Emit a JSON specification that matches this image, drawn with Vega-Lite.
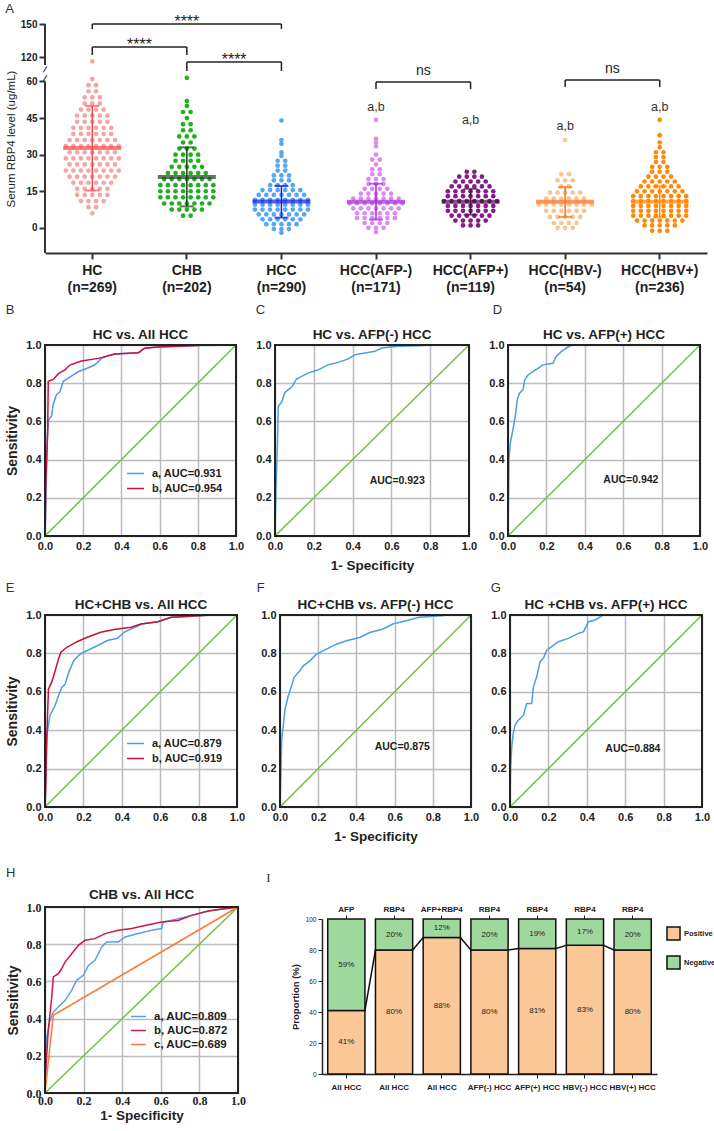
{
"$schema":"https://vega.github.io/schema/vega-lite/v6.json",
"background":"white",
"padding":{"left":5,"top":3,"right":2,"bottom":2},
"config":{"font":"Liberation Sans","view":{"stroke":null},
"title":{"fontSize":13,"fontWeight":"normal","anchor":"start","frame":"bounds","color":"#333","font":"Liberation Sans"},
"axis":{"labelColor":"#222","titleColor":"#222","domainColor":"#222","tickColor":"#222","labelFlush":false,"labelOverlap":false}},
"spacing":24,
"resolve":{"scale":{"color":"independent"},"legend":{"color":"independent"}},
"vconcat":[
{"spacing":10,"resolve":{"scale":{"color":"independent"},"legend":{"color":"independent"}},"vconcat":[
{"title":{"text":"A","offset":-2},
"width":662,"height":229,
"layer":[
{"data":{"values":[
{"g":"HC","v":116,"o":0},{"g":"HC","v":61,"o":0},
{"g":"HC","v":58.5,"o":-0.08},{"g":"HC","v":58.5,"o":0.08},
{"g":"HC","v":56,"o":-0.08},{"g":"HC","v":56,"o":0.08},
{"g":"HC","v":53.5,"o":-0.16},{"g":"HC","v":53.5,"o":0},{"g":"HC","v":53.5,"o":0.16},
{"g":"HC","v":51,"o":-0.16},{"g":"HC","v":51,"o":0},{"g":"HC","v":51,"o":0.16},
{"g":"HC","v":48.5,"o":-0.24},{"g":"HC","v":48.5,"o":-0.08},{"g":"HC","v":48.5,"o":0.08},{"g":"HC","v":48.5,"o":0.24},
{"g":"HC","v":46,"o":-0.32},{"g":"HC","v":46,"o":-0.16},{"g":"HC","v":46,"o":0},{"g":"HC","v":46,"o":0.16},{"g":"HC","v":46,"o":0.32},
{"g":"HC","v":43.5,"o":-0.32},{"g":"HC","v":43.5,"o":-0.16},{"g":"HC","v":43.5,"o":0},{"g":"HC","v":43.5,"o":0.16},{"g":"HC","v":43.5,"o":0.32},
{"g":"HC","v":41,"o":-0.4},{"g":"HC","v":41,"o":-0.24},{"g":"HC","v":41,"o":-0.08},{"g":"HC","v":41,"o":0.08},{"g":"HC","v":41,"o":0.24},{"g":"HC","v":41,"o":0.4},
{"g":"HC","v":38.5,"o":-0.4},{"g":"HC","v":38.5,"o":-0.24},{"g":"HC","v":38.5,"o":-0.08},{"g":"HC","v":38.5,"o":0.08},{"g":"HC","v":38.5,"o":0.24},{"g":"HC","v":38.5,"o":0.4},
{"g":"HC","v":36,"o":-0.48},{"g":"HC","v":36,"o":-0.32},{"g":"HC","v":36,"o":-0.16},{"g":"HC","v":36,"o":0},{"g":"HC","v":36,"o":0.16},{"g":"HC","v":36,"o":0.32},{"g":"HC","v":36,"o":0.48},
{"g":"HC","v":33.5,"o":-0.56},{"g":"HC","v":33.5,"o":-0.4},{"g":"HC","v":33.5,"o":-0.24},{"g":"HC","v":33.5,"o":-0.08},{"g":"HC","v":33.5,"o":0.08},{"g":"HC","v":33.5,"o":0.24},{"g":"HC","v":33.5,"o":0.4},{"g":"HC","v":33.5,"o":0.56},
{"g":"HC","v":31,"o":-0.48},{"g":"HC","v":31,"o":-0.32},{"g":"HC","v":31,"o":-0.16},{"g":"HC","v":31,"o":0},{"g":"HC","v":31,"o":0.16},{"g":"HC","v":31,"o":0.32},{"g":"HC","v":31,"o":0.48},
{"g":"HC","v":28.5,"o":-0.56},{"g":"HC","v":28.5,"o":-0.4},{"g":"HC","v":28.5,"o":-0.24},{"g":"HC","v":28.5,"o":-0.08},{"g":"HC","v":28.5,"o":0.08},{"g":"HC","v":28.5,"o":0.24},{"g":"HC","v":28.5,"o":0.4},{"g":"HC","v":28.5,"o":0.56},
{"g":"HC","v":26,"o":-0.48},{"g":"HC","v":26,"o":-0.32},{"g":"HC","v":26,"o":-0.16},{"g":"HC","v":26,"o":0},{"g":"HC","v":26,"o":0.16},{"g":"HC","v":26,"o":0.32},{"g":"HC","v":26,"o":0.48},
{"g":"HC","v":23.5,"o":-0.56},{"g":"HC","v":23.5,"o":-0.4},{"g":"HC","v":23.5,"o":-0.24},{"g":"HC","v":23.5,"o":-0.08},{"g":"HC","v":23.5,"o":0.08},{"g":"HC","v":23.5,"o":0.24},{"g":"HC","v":23.5,"o":0.4},{"g":"HC","v":23.5,"o":0.56},
{"g":"HC","v":21,"o":-0.48},{"g":"HC","v":21,"o":-0.32},{"g":"HC","v":21,"o":-0.16},{"g":"HC","v":21,"o":0},{"g":"HC","v":21,"o":0.16},{"g":"HC","v":21,"o":0.32},{"g":"HC","v":21,"o":0.48},
{"g":"HC","v":18.5,"o":-0.4},{"g":"HC","v":18.5,"o":-0.24},{"g":"HC","v":18.5,"o":-0.08},{"g":"HC","v":18.5,"o":0.08},{"g":"HC","v":18.5,"o":0.24},{"g":"HC","v":18.5,"o":0.4},
{"g":"HC","v":16,"o":-0.32},{"g":"HC","v":16,"o":-0.16},{"g":"HC","v":16,"o":0},{"g":"HC","v":16,"o":0.16},{"g":"HC","v":16,"o":0.32},
{"g":"HC","v":13.5,"o":-0.32},{"g":"HC","v":13.5,"o":-0.16},{"g":"HC","v":13.5,"o":0},{"g":"HC","v":13.5,"o":0.16},{"g":"HC","v":13.5,"o":0.32},
{"g":"HC","v":11,"o":-0.24},{"g":"HC","v":11,"o":-0.08},{"g":"HC","v":11,"o":0.08},{"g":"HC","v":11,"o":0.24},
{"g":"HC","v":8.5,"o":-0.08},{"g":"HC","v":8.5,"o":0.08},
{"g":"HC","v":6,"o":0},
{"g":"CHB","v":61.5,"o":0},{"g":"CHB","v":52,"o":0},{"g":"CHB","v":50,"o":0},
{"g":"CHB","v":47.5,"o":-0.08},{"g":"CHB","v":47.5,"o":0.08},
{"g":"CHB","v":45,"o":0},
{"g":"CHB","v":42.5,"o":-0.08},{"g":"CHB","v":42.5,"o":0.08},
{"g":"CHB","v":40,"o":-0.08},{"g":"CHB","v":40,"o":0.08},
{"g":"CHB","v":37.5,"o":-0.16},{"g":"CHB","v":37.5,"o":0},{"g":"CHB","v":37.5,"o":0.16},
{"g":"CHB","v":35,"o":-0.08},{"g":"CHB","v":35,"o":0.08},
{"g":"CHB","v":32.5,"o":-0.16},{"g":"CHB","v":32.5,"o":0},{"g":"CHB","v":32.5,"o":0.16},
{"g":"CHB","v":30,"o":-0.24},{"g":"CHB","v":30,"o":-0.08},{"g":"CHB","v":30,"o":0.08},{"g":"CHB","v":30,"o":0.24},
{"g":"CHB","v":27.5,"o":-0.24},{"g":"CHB","v":27.5,"o":-0.08},{"g":"CHB","v":27.5,"o":0.08},{"g":"CHB","v":27.5,"o":0.24},
{"g":"CHB","v":25,"o":-0.32},{"g":"CHB","v":25,"o":-0.16},{"g":"CHB","v":25,"o":0},{"g":"CHB","v":25,"o":0.16},{"g":"CHB","v":25,"o":0.32},
{"g":"CHB","v":22.5,"o":-0.4},{"g":"CHB","v":22.5,"o":-0.24},{"g":"CHB","v":22.5,"o":-0.08},{"g":"CHB","v":22.5,"o":0.08},{"g":"CHB","v":22.5,"o":0.24},{"g":"CHB","v":22.5,"o":0.4},
{"g":"CHB","v":20,"o":-0.48},{"g":"CHB","v":20,"o":-0.32},{"g":"CHB","v":20,"o":-0.16},{"g":"CHB","v":20,"o":0},{"g":"CHB","v":20,"o":0.16},{"g":"CHB","v":20,"o":0.32},{"g":"CHB","v":20,"o":0.48},
{"g":"CHB","v":17.5,"o":-0.56},{"g":"CHB","v":17.5,"o":-0.4},{"g":"CHB","v":17.5,"o":-0.24},{"g":"CHB","v":17.5,"o":-0.08},{"g":"CHB","v":17.5,"o":0.08},{"g":"CHB","v":17.5,"o":0.24},{"g":"CHB","v":17.5,"o":0.4},{"g":"CHB","v":17.5,"o":0.56},
{"g":"CHB","v":15,"o":-0.56},{"g":"CHB","v":15,"o":-0.4},{"g":"CHB","v":15,"o":-0.24},{"g":"CHB","v":15,"o":-0.08},{"g":"CHB","v":15,"o":0.08},{"g":"CHB","v":15,"o":0.24},{"g":"CHB","v":15,"o":0.4},{"g":"CHB","v":15,"o":0.56},
{"g":"CHB","v":12.5,"o":-0.56},{"g":"CHB","v":12.5,"o":-0.4},{"g":"CHB","v":12.5,"o":-0.24},{"g":"CHB","v":12.5,"o":-0.08},{"g":"CHB","v":12.5,"o":0.08},{"g":"CHB","v":12.5,"o":0.24},{"g":"CHB","v":12.5,"o":0.4},{"g":"CHB","v":12.5,"o":0.56},
{"g":"CHB","v":10,"o":-0.48},{"g":"CHB","v":10,"o":-0.32},{"g":"CHB","v":10,"o":-0.16},{"g":"CHB","v":10,"o":0},{"g":"CHB","v":10,"o":0.16},{"g":"CHB","v":10,"o":0.32},{"g":"CHB","v":10,"o":0.48},
{"g":"CHB","v":7.5,"o":-0.32},{"g":"CHB","v":7.5,"o":-0.16},{"g":"CHB","v":7.5,"o":0},{"g":"CHB","v":7.5,"o":0.16},{"g":"CHB","v":7.5,"o":0.32},
{"g":"CHB","v":5,"o":-0.08},{"g":"CHB","v":5,"o":0.08},
{"g":"HCC","v":44,"o":0},{"g":"HCC","v":36,"o":0},{"g":"HCC","v":34.5,"o":0},{"g":"HCC","v":31,"o":0},{"g":"HCC","v":29.5,"o":0},
{"g":"HCC","v":27.5,"o":-0.08},{"g":"HCC","v":27.5,"o":0.08},
{"g":"HCC","v":25.5,"o":-0.08},{"g":"HCC","v":25.5,"o":0.08},
{"g":"HCC","v":23.5,"o":-0.08},{"g":"HCC","v":23.5,"o":0.08},
{"g":"HCC","v":21.5,"o":-0.16},{"g":"HCC","v":21.5,"o":0},{"g":"HCC","v":21.5,"o":0.16},
{"g":"HCC","v":19.5,"o":-0.16},{"g":"HCC","v":19.5,"o":0},{"g":"HCC","v":19.5,"o":0.16},
{"g":"HCC","v":17.5,"o":-0.24},{"g":"HCC","v":17.5,"o":-0.08},{"g":"HCC","v":17.5,"o":0.08},{"g":"HCC","v":17.5,"o":0.24},
{"g":"HCC","v":15.5,"o":-0.4},{"g":"HCC","v":15.5,"o":-0.24},{"g":"HCC","v":15.5,"o":-0.08},{"g":"HCC","v":15.5,"o":0.08},{"g":"HCC","v":15.5,"o":0.24},{"g":"HCC","v":15.5,"o":0.4},
{"g":"HCC","v":13.5,"o":-0.48},{"g":"HCC","v":13.5,"o":-0.32},{"g":"HCC","v":13.5,"o":-0.16},{"g":"HCC","v":13.5,"o":0},{"g":"HCC","v":13.5,"o":0.16},{"g":"HCC","v":13.5,"o":0.32},{"g":"HCC","v":13.5,"o":0.48},
{"g":"HCC","v":11.5,"o":-0.56},{"g":"HCC","v":11.5,"o":-0.4},{"g":"HCC","v":11.5,"o":-0.24},{"g":"HCC","v":11.5,"o":-0.08},{"g":"HCC","v":11.5,"o":0.08},{"g":"HCC","v":11.5,"o":0.24},{"g":"HCC","v":11.5,"o":0.4},{"g":"HCC","v":11.5,"o":0.56},
{"g":"HCC","v":9.5,"o":-0.56},{"g":"HCC","v":9.5,"o":-0.4},{"g":"HCC","v":9.5,"o":-0.24},{"g":"HCC","v":9.5,"o":-0.08},{"g":"HCC","v":9.5,"o":0.08},{"g":"HCC","v":9.5,"o":0.24},{"g":"HCC","v":9.5,"o":0.4},{"g":"HCC","v":9.5,"o":0.56},
{"g":"HCC","v":7.5,"o":-0.56},{"g":"HCC","v":7.5,"o":-0.4},{"g":"HCC","v":7.5,"o":-0.24},{"g":"HCC","v":7.5,"o":-0.08},{"g":"HCC","v":7.5,"o":0.08},{"g":"HCC","v":7.5,"o":0.24},{"g":"HCC","v":7.5,"o":0.4},{"g":"HCC","v":7.5,"o":0.56},
{"g":"HCC","v":5.5,"o":-0.48},{"g":"HCC","v":5.5,"o":-0.32},{"g":"HCC","v":5.5,"o":-0.16},{"g":"HCC","v":5.5,"o":0},{"g":"HCC","v":5.5,"o":0.16},{"g":"HCC","v":5.5,"o":0.32},{"g":"HCC","v":5.5,"o":0.48},
{"g":"HCC","v":3.5,"o":-0.4},{"g":"HCC","v":3.5,"o":-0.24},{"g":"HCC","v":3.5,"o":-0.08},{"g":"HCC","v":3.5,"o":0.08},{"g":"HCC","v":3.5,"o":0.24},{"g":"HCC","v":3.5,"o":0.4},
{"g":"HCC","v":1.5,"o":-0.32},{"g":"HCC","v":1.5,"o":-0.16},{"g":"HCC","v":1.5,"o":0},{"g":"HCC","v":1.5,"o":0.16},{"g":"HCC","v":1.5,"o":0.32},
{"g":"HCC","v":-0.5,"o":-0.16},{"g":"HCC","v":-0.5,"o":0},{"g":"HCC","v":-0.5,"o":0.16},
{"g":"HCC","v":-2,"o":0},
{"g":"AFP-","v":44.3,"o":0},{"g":"AFP-","v":36.5,"o":0},{"g":"AFP-","v":35,"o":0},{"g":"AFP-","v":33.5,"o":0},{"g":"AFP-","v":30,"o":0},
{"g":"AFP-","v":28,"o":-0.08},{"g":"AFP-","v":28,"o":0.08},
{"g":"AFP-","v":26,"o":0},
{"g":"AFP-","v":24,"o":-0.08},{"g":"AFP-","v":24,"o":0.08},
{"g":"AFP-","v":22,"o":-0.08},{"g":"AFP-","v":22,"o":0.08},
{"g":"AFP-","v":20,"o":-0.16},{"g":"AFP-","v":20,"o":0},{"g":"AFP-","v":20,"o":0.16},
{"g":"AFP-","v":18,"o":-0.16},{"g":"AFP-","v":18,"o":0},{"g":"AFP-","v":18,"o":0.16},
{"g":"AFP-","v":16,"o":-0.24},{"g":"AFP-","v":16,"o":-0.08},{"g":"AFP-","v":16,"o":0.08},{"g":"AFP-","v":16,"o":0.24},
{"g":"AFP-","v":14,"o":-0.32},{"g":"AFP-","v":14,"o":-0.16},{"g":"AFP-","v":14,"o":0},{"g":"AFP-","v":14,"o":0.16},{"g":"AFP-","v":14,"o":0.32},
{"g":"AFP-","v":12,"o":-0.48},{"g":"AFP-","v":12,"o":-0.32},{"g":"AFP-","v":12,"o":-0.16},{"g":"AFP-","v":12,"o":0},{"g":"AFP-","v":12,"o":0.16},{"g":"AFP-","v":12,"o":0.32},{"g":"AFP-","v":12,"o":0.48},
{"g":"AFP-","v":10,"o":-0.56},{"g":"AFP-","v":10,"o":-0.4},{"g":"AFP-","v":10,"o":-0.24},{"g":"AFP-","v":10,"o":-0.08},{"g":"AFP-","v":10,"o":0.08},{"g":"AFP-","v":10,"o":0.24},{"g":"AFP-","v":10,"o":0.4},{"g":"AFP-","v":10,"o":0.56},
{"g":"AFP-","v":8,"o":-0.48},{"g":"AFP-","v":8,"o":-0.32},{"g":"AFP-","v":8,"o":-0.16},{"g":"AFP-","v":8,"o":0},{"g":"AFP-","v":8,"o":0.16},{"g":"AFP-","v":8,"o":0.32},{"g":"AFP-","v":8,"o":0.48},
{"g":"AFP-","v":6,"o":-0.4},{"g":"AFP-","v":6,"o":-0.24},{"g":"AFP-","v":6,"o":-0.08},{"g":"AFP-","v":6,"o":0.08},{"g":"AFP-","v":6,"o":0.24},{"g":"AFP-","v":6,"o":0.4},
{"g":"AFP-","v":4,"o":-0.4},{"g":"AFP-","v":4,"o":-0.24},{"g":"AFP-","v":4,"o":-0.08},{"g":"AFP-","v":4,"o":0.08},{"g":"AFP-","v":4,"o":0.24},{"g":"AFP-","v":4,"o":0.4},
{"g":"AFP-","v":2,"o":-0.24},{"g":"AFP-","v":2,"o":-0.08},{"g":"AFP-","v":2,"o":0.08},{"g":"AFP-","v":2,"o":0.24},
{"g":"AFP-","v":0,"o":-0.16},{"g":"AFP-","v":0,"o":0},{"g":"AFP-","v":0,"o":0.16},
{"g":"AFP-","v":-1.7,"o":0},
{"g":"AFP+","v":23,"o":-0.08},{"g":"AFP+","v":23,"o":0.08},
{"g":"AFP+","v":21,"o":-0.24},{"g":"AFP+","v":21,"o":-0.08},{"g":"AFP+","v":21,"o":0.08},{"g":"AFP+","v":21,"o":0.24},
{"g":"AFP+","v":19,"o":-0.32},{"g":"AFP+","v":19,"o":-0.16},{"g":"AFP+","v":19,"o":0},{"g":"AFP+","v":19,"o":0.16},{"g":"AFP+","v":19,"o":0.32},
{"g":"AFP+","v":17,"o":-0.4},{"g":"AFP+","v":17,"o":-0.24},{"g":"AFP+","v":17,"o":-0.08},{"g":"AFP+","v":17,"o":0.08},{"g":"AFP+","v":17,"o":0.24},{"g":"AFP+","v":17,"o":0.4},
{"g":"AFP+","v":15,"o":-0.48},{"g":"AFP+","v":15,"o":-0.32},{"g":"AFP+","v":15,"o":-0.16},{"g":"AFP+","v":15,"o":0},{"g":"AFP+","v":15,"o":0.16},{"g":"AFP+","v":15,"o":0.32},{"g":"AFP+","v":15,"o":0.48},
{"g":"AFP+","v":13,"o":-0.48},{"g":"AFP+","v":13,"o":-0.32},{"g":"AFP+","v":13,"o":-0.16},{"g":"AFP+","v":13,"o":0},{"g":"AFP+","v":13,"o":0.16},{"g":"AFP+","v":13,"o":0.32},{"g":"AFP+","v":13,"o":0.48},
{"g":"AFP+","v":11,"o":-0.56},{"g":"AFP+","v":11,"o":-0.4},{"g":"AFP+","v":11,"o":-0.24},{"g":"AFP+","v":11,"o":-0.08},{"g":"AFP+","v":11,"o":0.08},{"g":"AFP+","v":11,"o":0.24},{"g":"AFP+","v":11,"o":0.4},{"g":"AFP+","v":11,"o":0.56},
{"g":"AFP+","v":9,"o":-0.48},{"g":"AFP+","v":9,"o":-0.32},{"g":"AFP+","v":9,"o":-0.16},{"g":"AFP+","v":9,"o":0},{"g":"AFP+","v":9,"o":0.16},{"g":"AFP+","v":9,"o":0.32},{"g":"AFP+","v":9,"o":0.48},
{"g":"AFP+","v":7,"o":-0.48},{"g":"AFP+","v":7,"o":-0.32},{"g":"AFP+","v":7,"o":-0.16},{"g":"AFP+","v":7,"o":0},{"g":"AFP+","v":7,"o":0.16},{"g":"AFP+","v":7,"o":0.32},{"g":"AFP+","v":7,"o":0.48},
{"g":"AFP+","v":5,"o":-0.4},{"g":"AFP+","v":5,"o":-0.24},{"g":"AFP+","v":5,"o":-0.08},{"g":"AFP+","v":5,"o":0.08},{"g":"AFP+","v":5,"o":0.24},{"g":"AFP+","v":5,"o":0.4},
{"g":"AFP+","v":3,"o":-0.32},{"g":"AFP+","v":3,"o":-0.16},{"g":"AFP+","v":3,"o":0},{"g":"AFP+","v":3,"o":0.16},{"g":"AFP+","v":3,"o":0.32},
{"g":"AFP+","v":1,"o":-0.16},{"g":"AFP+","v":1,"o":0},{"g":"AFP+","v":1,"o":0.16},
{"g":"HBV-","v":36,"o":0},
{"g":"HBV-","v":22,"o":-0.08},{"g":"HBV-","v":22,"o":0.08},
{"g":"HBV-","v":19.5,"o":-0.16},{"g":"HBV-","v":19.5,"o":0},{"g":"HBV-","v":19.5,"o":0.16},
{"g":"HBV-","v":17,"o":-0.08},{"g":"HBV-","v":17,"o":0.08},
{"g":"HBV-","v":14.5,"o":-0.32},{"g":"HBV-","v":14.5,"o":-0.16},{"g":"HBV-","v":14.5,"o":0},{"g":"HBV-","v":14.5,"o":0.16},{"g":"HBV-","v":14.5,"o":0.32},
{"g":"HBV-","v":12,"o":-0.4},{"g":"HBV-","v":12,"o":-0.24},{"g":"HBV-","v":12,"o":-0.08},{"g":"HBV-","v":12,"o":0.08},{"g":"HBV-","v":12,"o":0.24},{"g":"HBV-","v":12,"o":0.4},
{"g":"HBV-","v":9.5,"o":-0.56},{"g":"HBV-","v":9.5,"o":-0.4},{"g":"HBV-","v":9.5,"o":-0.24},{"g":"HBV-","v":9.5,"o":-0.08},{"g":"HBV-","v":9.5,"o":0.08},{"g":"HBV-","v":9.5,"o":0.24},{"g":"HBV-","v":9.5,"o":0.4},{"g":"HBV-","v":9.5,"o":0.56},
{"g":"HBV-","v":7,"o":-0.4},{"g":"HBV-","v":7,"o":-0.24},{"g":"HBV-","v":7,"o":-0.08},{"g":"HBV-","v":7,"o":0.08},{"g":"HBV-","v":7,"o":0.24},{"g":"HBV-","v":7,"o":0.4},
{"g":"HBV-","v":4.5,"o":-0.32},{"g":"HBV-","v":4.5,"o":-0.16},{"g":"HBV-","v":4.5,"o":0},{"g":"HBV-","v":4.5,"o":0.16},{"g":"HBV-","v":4.5,"o":0.32},
{"g":"HBV-","v":2,"o":-0.24},{"g":"HBV-","v":2,"o":-0.08},{"g":"HBV-","v":2,"o":0.08},{"g":"HBV-","v":2,"o":0.24},
{"g":"HBV-","v":0,"o":-0.16},{"g":"HBV-","v":0,"o":0},{"g":"HBV-","v":0,"o":0.16},
{"g":"HBV+","v":44.3,"o":0},{"g":"HBV+","v":38,"o":0},{"g":"HBV+","v":35,"o":0},{"g":"HBV+","v":33,"o":0},
{"g":"HBV+","v":31,"o":-0.08},{"g":"HBV+","v":31,"o":0.08},
{"g":"HBV+","v":29,"o":-0.08},{"g":"HBV+","v":29,"o":0.08},
{"g":"HBV+","v":27,"o":-0.08},{"g":"HBV+","v":27,"o":0.08},
{"g":"HBV+","v":25,"o":-0.16},{"g":"HBV+","v":25,"o":0},{"g":"HBV+","v":25,"o":0.16},
{"g":"HBV+","v":23,"o":-0.16},{"g":"HBV+","v":23,"o":0},{"g":"HBV+","v":23,"o":0.16},
{"g":"HBV+","v":21,"o":-0.24},{"g":"HBV+","v":21,"o":-0.08},{"g":"HBV+","v":21,"o":0.08},{"g":"HBV+","v":21,"o":0.24},
{"g":"HBV+","v":19,"o":-0.32},{"g":"HBV+","v":19,"o":-0.16},{"g":"HBV+","v":19,"o":0},{"g":"HBV+","v":19,"o":0.16},{"g":"HBV+","v":19,"o":0.32},
{"g":"HBV+","v":17,"o":-0.4},{"g":"HBV+","v":17,"o":-0.24},{"g":"HBV+","v":17,"o":-0.08},{"g":"HBV+","v":17,"o":0.08},{"g":"HBV+","v":17,"o":0.24},{"g":"HBV+","v":17,"o":0.4},
{"g":"HBV+","v":15,"o":-0.48},{"g":"HBV+","v":15,"o":-0.32},{"g":"HBV+","v":15,"o":-0.16},{"g":"HBV+","v":15,"o":0},{"g":"HBV+","v":15,"o":0.16},{"g":"HBV+","v":15,"o":0.32},{"g":"HBV+","v":15,"o":0.48},
{"g":"HBV+","v":13,"o":-0.56},{"g":"HBV+","v":13,"o":-0.4},{"g":"HBV+","v":13,"o":-0.24},{"g":"HBV+","v":13,"o":-0.08},{"g":"HBV+","v":13,"o":0.08},{"g":"HBV+","v":13,"o":0.24},{"g":"HBV+","v":13,"o":0.4},{"g":"HBV+","v":13,"o":0.56},
{"g":"HBV+","v":11,"o":-0.56},{"g":"HBV+","v":11,"o":-0.4},{"g":"HBV+","v":11,"o":-0.24},{"g":"HBV+","v":11,"o":-0.08},{"g":"HBV+","v":11,"o":0.08},{"g":"HBV+","v":11,"o":0.24},{"g":"HBV+","v":11,"o":0.4},{"g":"HBV+","v":11,"o":0.56},
{"g":"HBV+","v":9,"o":-0.56},{"g":"HBV+","v":9,"o":-0.4},{"g":"HBV+","v":9,"o":-0.24},{"g":"HBV+","v":9,"o":-0.08},{"g":"HBV+","v":9,"o":0.08},{"g":"HBV+","v":9,"o":0.24},{"g":"HBV+","v":9,"o":0.4},{"g":"HBV+","v":9,"o":0.56},
{"g":"HBV+","v":7,"o":-0.56},{"g":"HBV+","v":7,"o":-0.4},{"g":"HBV+","v":7,"o":-0.24},{"g":"HBV+","v":7,"o":-0.08},{"g":"HBV+","v":7,"o":0.08},{"g":"HBV+","v":7,"o":0.24},{"g":"HBV+","v":7,"o":0.4},{"g":"HBV+","v":7,"o":0.56},
{"g":"HBV+","v":5,"o":-0.56},{"g":"HBV+","v":5,"o":-0.4},{"g":"HBV+","v":5,"o":-0.24},{"g":"HBV+","v":5,"o":-0.08},{"g":"HBV+","v":5,"o":0.08},{"g":"HBV+","v":5,"o":0.24},{"g":"HBV+","v":5,"o":0.4},{"g":"HBV+","v":5,"o":0.56},
{"g":"HBV+","v":3,"o":-0.48},{"g":"HBV+","v":3,"o":-0.32},{"g":"HBV+","v":3,"o":-0.16},{"g":"HBV+","v":3,"o":0},{"g":"HBV+","v":3,"o":0.16},{"g":"HBV+","v":3,"o":0.32},{"g":"HBV+","v":3,"o":0.48},
{"g":"HBV+","v":1,"o":-0.32},{"g":"HBV+","v":1,"o":-0.16},{"g":"HBV+","v":1,"o":0},{"g":"HBV+","v":1,"o":0.16},{"g":"HBV+","v":1,"o":0.32},
{"g":"HBV+","v":-1.2,"o":-0.16},{"g":"HBV+","v":-1.2,"o":0},{"g":"HBV+","v":-1.2,"o":0.16}
]},
"mark":{"type":"circle","size":22,"opacity":1},
"encoding":{
"x":{"field":"g","type":"nominal","scale":{"domain":["HC","CHB","HCC","AFP-","AFP+","HBV-","HBV+"],"paddingInner":0,"paddingOuter":0},
"axis":{"title":null,"labelAngle":0,"labelExpr":"datum.value=='HC'?['HC','(n=269)']:datum.value=='CHB'?['CHB','(n=202)']:datum.value=='HCC'?['HCC','(n=290)']:datum.value=='AFP-'?['HCC(AFP-)','(n=171)']:datum.value=='AFP+'?['HCC(AFP+)','(n=119)']:datum.value=='HBV-'?['HCC(HBV-)','(n=54)']:['HCC(HBV+)','(n=236)']","labelFontWeight":"bold","labelFontSize":14,"labelLineHeight":17,"labelPadding":4,"tickSize":6,"tickWidth":2,"domainWidth":2,"domainColor":"#333","tickColor":"#333"}},
"xOffset":{"field":"o","type":"quantitative","scale":{"domain":[-1,1]}},
"y":{"field":"v","type":"quantitative","scale":{"domain":[-10.3,62,115,150],"range":[229,52.6,38.5,0],"nice":false,"zero":false},
"axis":{"title":"Serum RBP4 level (ug/mL)","values":[0,15,30,45,60,120,150],"tickCount":12,"domain":false,"grid":false,"labelFontWeight":"bold","labelFontSize":10,"labelPadding":2,"tickSize":6,"tickWidth":2,"tickColor":"#333","titleFontWeight":"normal","titleFontSize":11.5,"titlePadding":4}},
"color":{"field":"g","type":"nominal","scale":{"domain":["HC","CHB","HCC","AFP-","AFP+","HBV-","HBV+"],"range":["#F6A5A5","#1FAF1F","#56A6F2","#DA8CF2","#861C86","#FBC48E","#FF8A0A"]},"legend":null}}},
{"data":{"values":[
{"g":"HC","m":32.7,"lo":15.3,"hi":50},{"g":"CHB","m":20.8,"lo":8.8,"hi":33},{"g":"HCC","m":10.8,"lo":4.2,"hi":17.2},
{"g":"AFP-","m":10.7,"lo":3.4,"hi":18.1},{"g":"AFP+","m":10.7,"lo":5.4,"hi":16},{"g":"HBV-","m":10.7,"lo":4.5,"hi":16.7},{"g":"HBV+","m":10.7,"lo":4.3,"hi":17.1}]},
"layer":[
{"mark":{"type":"rule","strokeWidth":1.5},
"encoding":{"x":{"field":"g","type":"nominal"},"y":{"field":"lo","type":"quantitative"},"y2":{"field":"hi"},
"color":{"field":"g","type":"nominal","scale":{"domain":["HC","CHB","HCC","AFP-","AFP+","HBV-","HBV+"],"range":["#F24A4A","#1D3D1D","#1414E8","#A424D8","#4E0E4E","#FF6A18","#FF8A0A"]},"legend":null}}},
{"mark":{"type":"tick","size":14,"thickness":2},
"encoding":{"x":{"field":"g","type":"nominal"},"y":{"field":"lo","type":"quantitative"},
"color":{"field":"g","type":"nominal","scale":{"domain":["HC","CHB","HCC","AFP-","AFP+","HBV-","HBV+"],"range":["#F24A4A","#1D3D1D","#1414E8","#A424D8","#4E0E4E","#FF6A18","#FF8A0A"]},"legend":null}}},
{"mark":{"type":"tick","size":14,"thickness":2},
"encoding":{"x":{"field":"g","type":"nominal"},"y":{"field":"hi","type":"quantitative"},
"color":{"field":"g","type":"nominal","scale":{"domain":["HC","CHB","HCC","AFP-","AFP+","HBV-","HBV+"],"range":["#F24A4A","#1D3D1D","#1414E8","#A424D8","#4E0E4E","#FF6A18","#FF8A0A"]},"legend":null}}},
{"mark":{"type":"tick","size":58,"thickness":4},
"encoding":{"x":{"field":"g","type":"nominal"},"y":{"field":"m","type":"quantitative"},
"color":{"field":"g","type":"nominal","scale":{"domain":["HC","CHB","HCC","AFP-","AFP+","HBV-","HBV+"],"range":["#F24A4A","#1B5E1B","#1414E8","#A424D8","#4E0E4E","#FF6A18","#A8621F"]},"legend":null}}}
]},
{"data":{"values":[{"a":"HC","b":"HCC","y":150,"e":145.5},{"a":"HC","b":"CHB","y":129,"e":121.8},{"a":"CHB","b":"HCC","y":115.5,"e":83},{"a":"AFP-","b":"AFP+","y":59.8,"e":56.9},{"a":"HBV-","b":"HBV+","y":60.6,"e":57.7}]},
"layer":[
{"mark":{"type":"rule","strokeWidth":1.5,"color":"#222"},"encoding":{"x":{"field":"a","type":"nominal"},"x2":{"field":"b"},"y":{"field":"y","type":"quantitative"}}},
{"mark":{"type":"rule","strokeWidth":1.5,"color":"#222"},"encoding":{"x":{"field":"a","type":"nominal"},"y":{"field":"y","type":"quantitative"},"y2":{"field":"e"}}},
{"mark":{"type":"rule","strokeWidth":1.5,"color":"#222"},"encoding":{"x":{"field":"b","type":"nominal"},"y":{"field":"y","type":"quantitative"},"y2":{"field":"e"}}}
]},
{"data":{"values":[{"x":"CHB","y":150,"t":"****"}]},
"mark":{"type":"text","fontSize":16,"baseline":"alphabetic","dy":3,"color":"#222"},
"encoding":{"x":{"field":"x","type":"nominal"},"y":{"field":"y","type":"quantitative"},"text":{"field":"t"}}},
{"data":{"values":[{"x":"HC","y":129,"t":"****"},{"x":"CHB","y":115.5,"t":"****"}]},
"mark":{"type":"text","fontSize":16,"baseline":"alphabetic","dy":3,"color":"#222"},
"encoding":{"x":{"field":"x","type":"nominal","bandPosition":1},"y":{"field":"y","type":"quantitative"},"text":{"field":"t"}}},
{"data":{"values":[{"x":"AFP-","y":59.8,"t":"ns"},{"x":"HBV-","y":60.6,"t":"ns"}]},
"mark":{"type":"text","fontSize":14,"baseline":"alphabetic","dy":-7,"color":"#222"},
"encoding":{"x":{"field":"x","type":"nominal","bandPosition":1},"y":{"field":"y","type":"quantitative"},"text":{"field":"t"}}},
{"data":{"values":[{"g":"AFP-","y":49.6,"t":"a,b"},{"g":"AFP+","y":44.3,"t":"a,b"},{"g":"HBV-","y":41.8,"t":"a,b"},{"g":"HBV+","y":49.6,"t":"a,b"}]},
"mark":{"type":"text","fontSize":12.5,"baseline":"middle","color":"#333"},
"encoding":{"x":{"field":"g","type":"nominal"},"y":{"field":"y","type":"quantitative"},"text":{"field":"t"}}},
{"data":{"values":[{"g":"HC","lo":-10.3,"hi":59.8},{"g":"HC","lo":105.6,"hi":150}]},
"mark":{"type":"rule","strokeWidth":2,"color":"#333"},
"encoding":{"x":{"field":"g","type":"nominal","bandPosition":0},"y":{"field":"lo","type":"quantitative"},"y2":{"field":"hi"}}},
{"data":{"values":[{"g":"HC","y":88.7},{"g":"HC","y":61.3}]},
"mark":{"type":"text","text":"/","fontSize":9,"fontWeight":"bold","angle":20,"baseline":"middle","color":"#333"},
"encoding":{"x":{"field":"g","type":"nominal","bandPosition":0},"y":{"field":"y","type":"quantitative"}}}
],
"resolve":{"scale":{"color":"independent"}}},

{"spacing":11,"resolve":{"scale":{"color":"independent"},"legend":{"color":"independent"}},"hconcat":[
{"title":{"text":"B","offset":11},"width":191,"height":191,
"layer":[
{"data":{"values":[{"x":0,"y":0},{"x":1,"y":1}]},"mark":{"type":"line","color":"#77C043","strokeWidth":1.5},
"encoding":{"x":{"field":"x","type":"quantitative","scale":{"domain":[0,1],"nice":false},"axis":{"values":[0,0.2,0.4,0.6,0.8,1],"tickCount":12,"format":".1f","gridColor":"#BBBBBB","gridWidth":1.5,"ticks":false,"domain":false,"labelFontWeight":"bold","labelFontSize":11,"labelPadding":4,"title":null}},
"y":{"field":"y","type":"quantitative","scale":{"domain":[0,1],"nice":false},"axis":{"values":[0,0.2,0.4,0.6,0.8,1],"tickCount":12,"format":".1f","gridColor":"#BBBBBB","gridWidth":1.5,"ticks":false,"domain":false,"labelFontWeight":"bold","labelFontSize":11,"labelPadding":4,"title":"Sensitivity","titleFontSize":14,"titleFontWeight":"bold","titlePadding":6}}}},
{"data":{"values":[
{"c":"a","x":0,"y":0},{"c":"a","x":0.003,"y":0.1},{"c":"a","x":0.005,"y":0.23},{"c":"a","x":0.01,"y":0.45},{"c":"a","x":0.014,"y":0.55},{"c":"a","x":0.02,"y":0.61},{"c":"a","x":0.035,"y":0.63},{"c":"a","x":0.043,"y":0.69},{"c":"a","x":0.06,"y":0.74},{"c":"a","x":0.078,"y":0.755},{"c":"a","x":0.096,"y":0.81},{"c":"a","x":0.12,"y":0.825},{"c":"a","x":0.15,"y":0.845},{"c":"a","x":0.174,"y":0.86},{"c":"a","x":0.217,"y":0.877},{"c":"a","x":0.26,"y":0.895},{"c":"a","x":0.296,"y":0.93},{"c":"a","x":0.33,"y":0.944},{"c":"a","x":0.365,"y":0.953},{"c":"a","x":0.49,"y":0.96},{"c":"a","x":0.52,"y":0.983},{"c":"a","x":0.59,"y":0.99},{"c":"a","x":0.8,"y":0.997},{"c":"a","x":1,"y":1},
{"c":"b","x":0,"y":0},{"c":"b","x":0.005,"y":0.3},{"c":"b","x":0.014,"y":0.545},{"c":"b","x":0.017,"y":0.81},{"c":"b","x":0.043,"y":0.82},{"c":"b","x":0.07,"y":0.85},{"c":"b","x":0.104,"y":0.87},{"c":"b","x":0.13,"y":0.895},{"c":"b","x":0.19,"y":0.916},{"c":"b","x":0.28,"y":0.93},{"c":"b","x":0.365,"y":0.953},{"c":"b","x":0.49,"y":0.96},{"c":"b","x":0.52,"y":0.983},{"c":"b","x":0.59,"y":0.99},{"c":"b","x":0.8,"y":0.997},{"c":"b","x":0.82,"y":1}]},
"mark":{"type":"line","strokeWidth":1.5},
"encoding":{"x":{"field":"x","type":"quantitative"},"y":{"field":"y","type":"quantitative"},"order":{"value":null},
"color":{"field":"c","type":"nominal","scale":{"domain":["a","b"],"range":["#4A9EE6","#D0103C"]},
"legend":{"orient":"none","legendX":81,"legendY":119,"title":null,"symbolType":"stroke","symbolSize":289,"symbolStrokeWidth":1.5,"labelFontSize":11,"labelFontWeight":"bold","labelColor":"#222","labelOffset":7,"rowPadding":-3,"labelExpr":"datum.label=='a'?'a, AUC=0.931':'b, AUC=0.954'"}}}},
{"data":{"values":[{"t":"HC vs. All HCC"}]},"mark":{"type":"text","baseline":"bottom","dy":-3,"fontSize":13.5,"fontWeight":"bold","color":"#222"},
"encoding":{"x":{"datum":0.5,"type":"quantitative"},"y":{"datum":1,"type":"quantitative"},"text":{"field":"t"}}},
{"data":{"values":[{}]},"mark":{"type":"rect","filled":false,"color":"#222","strokeWidth":2},
"encoding":{"x":{"datum":0,"type":"quantitative"},"x2":{"datum":1},"y":{"datum":0,"type":"quantitative"},"y2":{"datum":1}}}
]},
{"title":{"text":"C","offset":11},"width":194,"height":191,
"layer":[
{"data":{"values":[{"x":0,"y":0},{"x":1,"y":1}]},"mark":{"type":"line","color":"#77C043","strokeWidth":1.5},
"encoding":{"x":{"field":"x","type":"quantitative","scale":{"domain":[0,1],"nice":false},"axis":{"values":[0,0.2,0.4,0.6,0.8,1],"tickCount":12,"format":".1f","gridColor":"#BBBBBB","gridWidth":1.5,"ticks":false,"domain":false,"labelFontWeight":"bold","labelFontSize":11,"labelPadding":4,"title":"1- Specificity","titleFontSize":13.5,"titleFontWeight":"bold","titlePadding":7}},
"y":{"field":"y","type":"quantitative","scale":{"domain":[0,1],"nice":false},"axis":{"values":[0,0.2,0.4,0.6,0.8,1],"tickCount":12,"format":".1f","gridColor":"#BBBBBB","gridWidth":1.5,"ticks":false,"domain":false,"labelFontWeight":"bold","labelFontSize":11,"labelPadding":4,"title":null}}}},
{"data":{"values":[
{"x":0,"y":0},{"x":0.005,"y":0.24},{"x":0.009,"y":0.364},{"x":0.014,"y":0.54},{"x":0.017,"y":0.68},{"x":0.034,"y":0.7},{"x":0.05,"y":0.75},{"x":0.069,"y":0.766},{"x":0.086,"y":0.78},{"x":0.11,"y":0.82},{"x":0.137,"y":0.836},{"x":0.17,"y":0.853},{"x":0.223,"y":0.87},{"x":0.275,"y":0.897},{"x":0.326,"y":0.909},{"x":0.378,"y":0.927},{"x":0.412,"y":0.949},{"x":0.464,"y":0.958},{"x":0.515,"y":0.967},{"x":0.55,"y":0.984},{"x":0.636,"y":0.993},{"x":0.74,"y":0.996},{"x":0.8,"y":1}]},
"mark":{"type":"line","strokeWidth":1.5,"color":"#4A9EE6"},
"encoding":{"x":{"field":"x","type":"quantitative"},"y":{"field":"y","type":"quantitative"},"order":{"value":null}}},
{"data":{"values":[{"t":"AUC=0.923"}]},"mark":{"type":"text","fontSize":10.5,"fontWeight":"bold","color":"#222","baseline":"middle"},
"encoding":{"x":{"datum":0.63,"type":"quantitative"},"y":{"datum":0.29,"type":"quantitative"},"text":{"field":"t"}}},
{"data":{"values":[{"t":"HC vs. AFP(-) HCC"}]},"mark":{"type":"text","baseline":"bottom","dy":-3,"fontSize":13.5,"fontWeight":"bold","color":"#222"},
"encoding":{"x":{"datum":0.5,"type":"quantitative"},"y":{"datum":1,"type":"quantitative"},"text":{"field":"t"}}},
{"data":{"values":[{}]},"mark":{"type":"rect","filled":false,"color":"#222","strokeWidth":2},
"encoding":{"x":{"datum":0,"type":"quantitative"},"x2":{"datum":1},"y":{"datum":0,"type":"quantitative"},"y2":{"datum":1}}}
]},
{"title":{"text":"D","offset":11,"dx":4},"width":192,"height":191,
"layer":[
{"data":{"values":[{"x":0,"y":0},{"x":1,"y":1}]},"mark":{"type":"line","color":"#77C043","strokeWidth":1.5},
"encoding":{"x":{"field":"x","type":"quantitative","scale":{"domain":[0,1],"nice":false},"axis":{"values":[0,0.2,0.4,0.6,0.8,1],"tickCount":12,"format":".1f","gridColor":"#BBBBBB","gridWidth":1.5,"ticks":false,"domain":false,"labelFontWeight":"bold","labelFontSize":11,"labelPadding":4,"title":null}},
"y":{"field":"y","type":"quantitative","scale":{"domain":[0,1],"nice":false},"axis":{"values":[0,0.2,0.4,0.6,0.8,1],"tickCount":12,"format":".1f","gridColor":"#BBBBBB","gridWidth":1.5,"ticks":false,"domain":false,"labelFontWeight":"bold","labelFontSize":11,"labelPadding":4,"title":null}}}},
{"data":{"values":[
{"x":0,"y":0},{"x":0.003,"y":0.226},{"x":0.005,"y":0.4},{"x":0.012,"y":0.487},{"x":0.022,"y":0.539},{"x":0.029,"y":0.574},{"x":0.04,"y":0.643},{"x":0.048,"y":0.713},{"x":0.06,"y":0.748},{"x":0.078,"y":0.765},{"x":0.087,"y":0.817},{"x":0.104,"y":0.843},{"x":0.13,"y":0.86},{"x":0.156,"y":0.878},{"x":0.182,"y":0.896},{"x":0.234,"y":0.904},{"x":0.25,"y":0.939},{"x":0.277,"y":0.965},{"x":0.303,"y":0.983},{"x":0.33,"y":1}]},
"mark":{"type":"line","strokeWidth":1.5,"color":"#4A9EE6"},
"encoding":{"x":{"field":"x","type":"quantitative"},"y":{"field":"y","type":"quantitative"},"order":{"value":null}}},
{"data":{"values":[{"t":"AUC=0.942"}]},"mark":{"type":"text","fontSize":10.5,"fontWeight":"bold","color":"#222","baseline":"middle"},
"encoding":{"x":{"datum":0.64,"type":"quantitative"},"y":{"datum":0.295,"type":"quantitative"},"text":{"field":"t"}}},
{"data":{"values":[{"t":"HC  vs. AFP(+) HCC"}]},"mark":{"type":"text","baseline":"bottom","dy":-3,"fontSize":13.5,"fontWeight":"bold","color":"#222"},
"encoding":{"x":{"datum":0.5,"type":"quantitative"},"y":{"datum":1,"type":"quantitative"},"text":{"field":"t"}}},
{"data":{"values":[{}]},"mark":{"type":"rect","filled":false,"color":"#222","strokeWidth":2},
"encoding":{"x":{"datum":0,"type":"quantitative"},"x2":{"datum":1},"y":{"datum":0,"type":"quantitative"},"y2":{"datum":1}}}
]}
]},

{"spacing":11,"resolve":{"scale":{"color":"independent"},"legend":{"color":"independent"}},"hconcat":[
{"title":{"text":"E","offset":3},"width":192,"height":192,
"layer":[
{"data":{"values":[{"x":0,"y":0},{"x":1,"y":1}]},"mark":{"type":"line","color":"#77C043","strokeWidth":1.5},
"encoding":{"x":{"field":"x","type":"quantitative","scale":{"domain":[0,1],"nice":false},"axis":{"values":[0,0.2,0.4,0.6,0.8,1],"tickCount":12,"format":".1f","gridColor":"#BBBBBB","gridWidth":1.5,"ticks":false,"domain":false,"labelFontWeight":"bold","labelFontSize":11,"labelPadding":4,"title":null}},
"y":{"field":"y","type":"quantitative","scale":{"domain":[0,1],"nice":false},"axis":{"values":[0,0.2,0.4,0.6,0.8,1],"tickCount":12,"format":".1f","gridColor":"#BBBBBB","gridWidth":1.5,"ticks":false,"domain":false,"labelFontWeight":"bold","labelFontSize":11,"labelPadding":4,"title":"Sensitivity","titleFontSize":14,"titleFontWeight":"bold","titlePadding":6}}}},
{"data":{"values":[
{"c":"a","x":0,"y":0},{"c":"a","x":0.005,"y":0.25},{"c":"a","x":0.012,"y":0.39},{"c":"a","x":0.026,"y":0.477},{"c":"a","x":0.053,"y":0.53},{"c":"a","x":0.07,"y":0.58},{"c":"a","x":0.088,"y":0.624},{"c":"a","x":0.105,"y":0.64},{"c":"a","x":0.123,"y":0.7},{"c":"a","x":0.15,"y":0.763},{"c":"a","x":0.184,"y":0.797},{"c":"a","x":0.22,"y":0.815},{"c":"a","x":0.272,"y":0.84},{"c":"a","x":0.325,"y":0.867},{"c":"a","x":0.377,"y":0.879},{"c":"a","x":0.412,"y":0.91},{"c":"a","x":0.447,"y":0.927},{"c":"a","x":0.482,"y":0.941},{"c":"a","x":0.5,"y":0.953},{"c":"a","x":0.588,"y":0.965},{"c":"a","x":0.658,"y":0.988},{"c":"a","x":0.8,"y":0.996},{"c":"a","x":0.868,"y":1},
{"c":"b","x":0,"y":0},{"c":"b","x":0.004,"y":0.095},{"c":"b","x":0.009,"y":0.355},{"c":"b","x":0.018,"y":0.615},{"c":"b","x":0.035,"y":0.65},{"c":"b","x":0.053,"y":0.71},{"c":"b","x":0.07,"y":0.77},{"c":"b","x":0.083,"y":0.806},{"c":"b","x":0.114,"y":0.832},{"c":"b","x":0.167,"y":0.861},{"c":"b","x":0.22,"y":0.884},{"c":"b","x":0.29,"y":0.91},{"c":"b","x":0.36,"y":0.924},{"c":"b","x":0.447,"y":0.936},{"c":"b","x":0.5,"y":0.953},{"c":"b","x":0.588,"y":0.965},{"c":"b","x":0.658,"y":0.988},{"c":"b","x":0.8,"y":0.996},{"c":"b","x":0.868,"y":1}]},
"mark":{"type":"line","strokeWidth":1.5},
"encoding":{"x":{"field":"x","type":"quantitative"},"y":{"field":"y","type":"quantitative"},"order":{"value":null},
"color":{"field":"c","type":"nominal","scale":{"domain":["a","b"],"range":["#4A9EE6","#C8103A"]},
"legend":{"orient":"none","legendX":81,"legendY":119,"title":null,"symbolType":"stroke","symbolSize":289,"symbolStrokeWidth":1.5,"labelFontSize":11,"labelFontWeight":"bold","labelColor":"#222","labelOffset":7,"rowPadding":-3,"labelExpr":"datum.label=='a'?'a, AUC=0.879':'b, AUC=0.919'"}}}},
{"data":{"values":[{"t":"HC+CHB vs. All HCC"}]},"mark":{"type":"text","baseline":"bottom","dy":-3,"fontSize":13.5,"fontWeight":"bold","color":"#222"},
"encoding":{"x":{"datum":0.5,"type":"quantitative"},"y":{"datum":1,"type":"quantitative"},"text":{"field":"t"}}},
{"data":{"values":[{}]},"mark":{"type":"rect","filled":false,"color":"#222","strokeWidth":2},
"encoding":{"x":{"datum":0,"type":"quantitative"},"x2":{"datum":1},"y":{"datum":0,"type":"quantitative"},"y2":{"datum":1}}}
]},
{"title":{"text":"F","offset":3,"dx":-4},"width":191,"height":192,
"layer":[
{"data":{"values":[{"x":0,"y":0},{"x":1,"y":1}]},"mark":{"type":"line","color":"#77C043","strokeWidth":1.5},
"encoding":{"x":{"field":"x","type":"quantitative","scale":{"domain":[0,1],"nice":false},"axis":{"values":[0,0.2,0.4,0.6,0.8,1],"tickCount":12,"format":".1f","gridColor":"#BBBBBB","gridWidth":1.5,"ticks":false,"domain":false,"labelFontWeight":"bold","labelFontSize":11,"labelPadding":4,"title":"1- Specificity","titleFontSize":13.5,"titleFontWeight":"bold","titlePadding":7}},
"y":{"field":"y","type":"quantitative","scale":{"domain":[0,1],"nice":false},"axis":{"values":[0,0.2,0.4,0.6,0.8,1],"tickCount":12,"format":".1f","gridColor":"#BBBBBB","gridWidth":1.5,"ticks":false,"domain":false,"labelFontWeight":"bold","labelFontSize":11,"labelPadding":4,"title":null}}}},
{"data":{"values":[
{"x":0,"y":0},{"x":0.003,"y":0.108},{"x":0.009,"y":0.352},{"x":0.017,"y":0.422},{"x":0.026,"y":0.509},{"x":0.043,"y":0.578},{"x":0.061,"y":0.631},{"x":0.073,"y":0.674},{"x":0.096,"y":0.7},{"x":0.122,"y":0.735},{"x":0.157,"y":0.761},{"x":0.191,"y":0.796},{"x":0.243,"y":0.822},{"x":0.296,"y":0.848},{"x":0.348,"y":0.866},{"x":0.417,"y":0.883},{"x":0.47,"y":0.909},{"x":0.54,"y":0.927},{"x":0.59,"y":0.953},{"x":0.66,"y":0.97},{"x":0.73,"y":0.988},{"x":0.86,"y":0.997}]},
"mark":{"type":"line","strokeWidth":1.5,"color":"#4A9EE6"},
"encoding":{"x":{"field":"x","type":"quantitative"},"y":{"field":"y","type":"quantitative"},"order":{"value":null}}},
{"data":{"values":[{"t":"AUC=0.875"}]},"mark":{"type":"text","fontSize":10.5,"fontWeight":"bold","color":"#222","baseline":"middle"},
"encoding":{"x":{"datum":0.64,"type":"quantitative"},"y":{"datum":0.31,"type":"quantitative"},"text":{"field":"t"}}},
{"data":{"values":[{"t":"HC+CHB vs. AFP(-) HCC"}]},"mark":{"type":"text","baseline":"bottom","dy":-3,"fontSize":13.5,"fontWeight":"bold","color":"#222"},
"encoding":{"x":{"datum":0.5,"type":"quantitative"},"y":{"datum":1,"type":"quantitative"},"text":{"field":"t"}}},
{"data":{"values":[{}]},"mark":{"type":"rect","filled":false,"color":"#222","strokeWidth":2},
"encoding":{"x":{"datum":0,"type":"quantitative"},"x2":{"datum":1},"y":{"datum":0,"type":"quantitative"},"y2":{"datum":1}}}
]},
{"title":{"text":"G","offset":3},"width":192,"height":192,
"layer":[
{"data":{"values":[{"x":0,"y":0},{"x":1,"y":1}]},"mark":{"type":"line","color":"#77C043","strokeWidth":1.5},
"encoding":{"x":{"field":"x","type":"quantitative","scale":{"domain":[0,1],"nice":false},"axis":{"values":[0,0.2,0.4,0.6,0.8,1],"tickCount":12,"format":".1f","gridColor":"#BBBBBB","gridWidth":1.5,"ticks":false,"domain":false,"labelFontWeight":"bold","labelFontSize":11,"labelPadding":4,"title":null}},
"y":{"field":"y","type":"quantitative","scale":{"domain":[0,1],"nice":false},"axis":{"values":[0,0.2,0.4,0.6,0.8,1],"tickCount":12,"format":".1f","gridColor":"#BBBBBB","gridWidth":1.5,"ticks":false,"domain":false,"labelFontWeight":"bold","labelFontSize":11,"labelPadding":4,"title":null}}}},
{"data":{"values":[
{"x":0,"y":0},{"x":0.003,"y":0.209},{"x":0.009,"y":0.313},{"x":0.017,"y":0.383},{"x":0.026,"y":0.426},{"x":0.043,"y":0.452},{"x":0.07,"y":0.478},{"x":0.087,"y":0.539},{"x":0.113,"y":0.539},{"x":0.122,"y":0.626},{"x":0.139,"y":0.678},{"x":0.157,"y":0.757},{"x":0.174,"y":0.774},{"x":0.191,"y":0.817},{"x":0.217,"y":0.835},{"x":0.252,"y":0.861},{"x":0.304,"y":0.878},{"x":0.357,"y":0.904},{"x":0.383,"y":0.913},{"x":0.409,"y":0.965},{"x":0.443,"y":0.974},{"x":0.478,"y":0.995},{"x":0.48,"y":1}]},
"mark":{"type":"line","strokeWidth":1.5,"color":"#4A9EE6"},
"encoding":{"x":{"field":"x","type":"quantitative"},"y":{"field":"y","type":"quantitative"},"order":{"value":null}}},
{"data":{"values":[{"t":"AUC=0.884"}]},"mark":{"type":"text","fontSize":10.5,"fontWeight":"bold","color":"#222","baseline":"middle"},
"encoding":{"x":{"datum":0.64,"type":"quantitative"},"y":{"datum":0.3,"type":"quantitative"},"text":{"field":"t"}}},
{"data":{"values":[{"t":"HC +CHB vs. AFP(+) HCC"}]},"mark":{"type":"text","baseline":"bottom","dy":-3,"fontSize":13.5,"fontWeight":"bold","color":"#222"},
"encoding":{"x":{"datum":0.5,"type":"quantitative"},"y":{"datum":1,"type":"quantitative"},"text":{"field":"t"}}},
{"data":{"values":[{}]},"mark":{"type":"rect","filled":false,"color":"#222","strokeWidth":2},
"encoding":{"x":{"datum":0,"type":"quantitative"},"x2":{"datum":1},"y":{"datum":0,"type":"quantitative"},"y2":{"datum":1}}}
]}
]}
]},

{"spacing":20,"resolve":{"scale":{"color":"independent"},"legend":{"color":"independent"}},"hconcat":[
{"title":{"text":"H","offset":8},"width":193,"height":186,
"layer":[
{"data":{"values":[{"x":0,"y":0},{"x":1,"y":1}]},"mark":{"type":"line","color":"#77C043","strokeWidth":1.5},
"encoding":{"x":{"field":"x","type":"quantitative","scale":{"domain":[0,1],"nice":false},"axis":{"values":[0,0.2,0.4,0.6,0.8,1],"tickCount":12,"format":".1f","gridColor":"#BBBBBB","gridWidth":1.5,"ticks":false,"domain":false,"labelFont":"Liberation Serif","labelFontWeight":"bold","labelFontSize":12,"labelPadding":2,"title":"1- Specificity","titleFontSize":13.5,"titleFontWeight":"bold","titlePadding":2}},
"y":{"field":"y","type":"quantitative","scale":{"domain":[0,1],"nice":false},"axis":{"values":[0,0.2,0.4,0.6,0.8,1],"tickCount":12,"format":".1f","gridColor":"#BBBBBB","gridWidth":1.5,"ticks":false,"domain":false,"labelFont":"Liberation Serif","labelFontWeight":"bold","labelFontSize":12,"labelPadding":4,"title":"Sensitivity","titleFontSize":14,"titleFontWeight":"bold","titlePadding":6}}}},
{"data":{"values":[
{"c":"a","x":0,"y":0},{"c":"a","x":0.005,"y":0.2},{"c":"a","x":0.009,"y":0.3},{"c":"a","x":0.026,"y":0.39},{"c":"a","x":0.043,"y":0.435},{"c":"a","x":0.069,"y":0.462},{"c":"a","x":0.104,"y":0.498},{"c":"a","x":0.138,"y":0.552},{"c":"a","x":0.164,"y":0.606},{"c":"a","x":0.199,"y":0.633},{"c":"a","x":0.225,"y":0.686},{"c":"a","x":0.259,"y":0.713},{"c":"a","x":0.294,"y":0.785},{"c":"a","x":0.32,"y":0.812},{"c":"a","x":0.38,"y":0.812},{"c":"a","x":0.415,"y":0.839},{"c":"a","x":0.484,"y":0.857},{"c":"a","x":0.553,"y":0.875},{"c":"a","x":0.604,"y":0.884},{"c":"a","x":0.613,"y":0.919},{"c":"a","x":0.69,"y":0.937},{"c":"a","x":0.76,"y":0.955},{"c":"a","x":0.846,"y":0.978},{"c":"a","x":0.93,"y":0.991},{"c":"a","x":1,"y":1},
{"c":"b","x":0,"y":0},{"c":"b","x":0.005,"y":0.14},{"c":"b","x":0.017,"y":0.337},{"c":"b","x":0.026,"y":0.426},{"c":"b","x":0.035,"y":0.516},{"c":"b","x":0.043,"y":0.624},{"c":"b","x":0.069,"y":0.642},{"c":"b","x":0.086,"y":0.668},{"c":"b","x":0.104,"y":0.704},{"c":"b","x":0.138,"y":0.749},{"c":"b","x":0.173,"y":0.794},{"c":"b","x":0.207,"y":0.821},{"c":"b","x":0.259,"y":0.83},{"c":"b","x":0.311,"y":0.857},{"c":"b","x":0.38,"y":0.875},{"c":"b","x":0.449,"y":0.884},{"c":"b","x":0.518,"y":0.901},{"c":"b","x":0.604,"y":0.919},{"c":"b","x":0.69,"y":0.928},{"c":"b","x":0.76,"y":0.955},{"c":"b","x":0.846,"y":0.978},{"c":"b","x":0.93,"y":0.991},{"c":"b","x":1,"y":1},
{"c":"c","x":0,"y":0},{"c":"c","x":0.043,"y":0.418},{"c":"c","x":1,"y":1}]},
"mark":{"type":"line","strokeWidth":1.5},
"encoding":{"x":{"field":"x","type":"quantitative"},"y":{"field":"y","type":"quantitative"},"order":{"value":null},
"color":{"field":"c","type":"nominal","scale":{"domain":["a","b","c"],"range":["#5AA0E6","#CC1848","#F97A3A"]},
"legend":{"orient":"none","legendX":85,"legendY":101,"title":null,"symbolType":"stroke","symbolSize":225,"symbolStrokeWidth":1.5,"labelFontSize":11.5,"labelFontWeight":"bold","labelColor":"#222","labelOffset":7,"rowPadding":-3,"labelExpr":"datum.label=='a'?'a, AUC=0.809':datum.label=='b'?'b, AUC=0.872':'c, AUC=0.689'"}}}},
{"data":{"values":[{"t":"CHB vs. All HCC"}]},"mark":{"type":"text","baseline":"bottom","dy":-5,"fontSize":13.5,"fontWeight":"bold","color":"#222"},
"encoding":{"x":{"datum":0.5,"type":"quantitative"},"y":{"datum":1,"type":"quantitative"},"text":{"field":"t"}}},
{"data":{"values":[{}]},"mark":{"type":"rect","filled":false,"color":"#222","strokeWidth":2},
"encoding":{"x":{"datum":0,"type":"quantitative"},"x2":{"datum":1},"y":{"datum":0,"type":"quantitative"},"y2":{"datum":1}}}
]},
{"title":{"text":"I","font":"Liberation Serif","offset":20,"dx":-24},"width":335,"height":167,
"layer":[
{"data":{"values":[
{"k":"AFP|All HCC","s":"Positive","p":0.41},{"k":"AFP|All HCC","s":"Negative","p":0.59},
{"k":"RBP4|All HCC","s":"Positive","p":0.80},{"k":"RBP4|All HCC","s":"Negative","p":0.20},
{"k":"AFP+RBP4|All HCC","s":"Positive","p":0.88},{"k":"AFP+RBP4|All HCC","s":"Negative","p":0.12},
{"k":"RBP4|AFP(-) HCC","s":"Positive","p":0.80},{"k":"RBP4|AFP(-) HCC","s":"Negative","p":0.20},
{"k":"RBP4|AFP(+) HCC","s":"Positive","p":0.81},{"k":"RBP4|AFP(+) HCC","s":"Negative","p":0.19},
{"k":"RBP4|HBV(-) HCC","s":"Positive","p":0.83},{"k":"RBP4|HBV(-) HCC","s":"Negative","p":0.17},
{"k":"RBP4|HBV(+) HCC","s":"Positive","p":0.80},{"k":"RBP4|HBV(+) HCC","s":"Negative","p":0.20}]},
"layer":[
{"mark":{"type":"bar","stroke":"#111","strokeWidth":1.5,"width":37.2},
"encoding":{
"x":{"field":"k","type":"nominal","scale":{"domain":["AFP|All HCC","RBP4|All HCC","AFP+RBP4|All HCC","RBP4|AFP(-) HCC","RBP4|AFP(+) HCC","RBP4|HBV(-) HCC","RBP4|HBV(+) HCC"],"paddingInner":0.22,"paddingOuter":0.12},
"axis":{"orient":"bottom","title":null,"labelAngle":0,"labelExpr":"split(datum.value,'|')[1]","labelFontWeight":"bold","labelFontSize":8,"tickSize":4,"domainWidth":1.5,"tickWidth":1,"labelPadding":5}},
"y":{"field":"p","type":"quantitative","stack":"zero","scale":{"domain":[0,1],"range":[167,12],"nice":false},
"axis":{"title":"Proportion (%)","values":[0,0.2,0.4,0.6,0.8,1],"tickCount":12,"labelExpr":"format(datum.value*100,'d')","grid":false,"titleFontSize":9.5,"titleFontWeight":"bold","labelFontSize":6.5,"tickSize":4,"domainWidth":1.5,"labelPadding":2,"titlePadding":5}},
"color":{"field":"s","type":"nominal","scale":{"domain":["Positive","Negative"],"range":["#FBC797","#9FD89D"]},
"legend":{"orient":"none","legendX":344,"legendY":19,"title":null,"symbolType":"square","symbolSize":170,"symbolStrokeColor":"#111","symbolStrokeWidth":1.5,"labelFontSize":7.5,"labelFontWeight":"bold","labelColor":"#222","labelOffset":3,"rowPadding":8}},
"order":{"field":"s","sort":"descending"}}},
{"mark":{"type":"text","fontSize":8,"color":"#222","baseline":"middle"},
"encoding":{
"x":{"field":"k","type":"nominal"},
"y":{"field":"p","type":"quantitative","stack":"zero","bandPosition":0.5},
"order":{"field":"s","sort":"descending"},
"text":{"field":"p","format":".0%"}}}
]},
{"data":{"values":[
{"k":"AFP|All HCC","k2":"RBP4|All HCC","a":0.41,"b":0.80},
{"k":"RBP4|All HCC","k2":"AFP+RBP4|All HCC","a":0.80,"b":0.88},
{"k":"AFP+RBP4|All HCC","k2":"RBP4|AFP(-) HCC","a":0.88,"b":0.80},
{"k":"RBP4|AFP(-) HCC","k2":"RBP4|AFP(+) HCC","a":0.80,"b":0.81},
{"k":"RBP4|AFP(+) HCC","k2":"RBP4|HBV(-) HCC","a":0.81,"b":0.83},
{"k":"RBP4|HBV(-) HCC","k2":"RBP4|HBV(+) HCC","a":0.83,"b":0.80}]},
"mark":{"type":"rule","color":"#111","strokeWidth":1.5},
"encoding":{
"x":{"field":"k","type":"nominal","bandPosition":1,"axis":{"orient":"top","offset":-12,"title":null,"labelAngle":0,"labelExpr":"split(datum.value,'|')[0]","labelFontWeight":"bold","labelFontSize":8,"tickSize":4,"domain":false,"labelPadding":2}},
"x2":{"field":"k2","bandPosition":0},
"y":{"field":"a","type":"quantitative"},
"y2":{"field":"b"}}}
],
"resolve":{"axis":{"x":"independent"}}}
]}
]
}
